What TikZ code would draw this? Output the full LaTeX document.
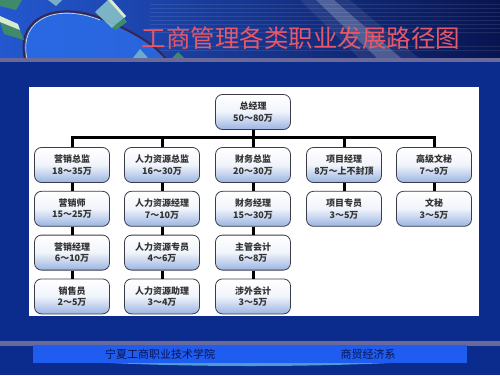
\documentclass[tikz,border=0pt]{standalone}
\usepackage{fontspec}
\usepackage{tikz}
\usetikzlibrary{positioning}
\usepackage{xcolor}
\newfontfamily\cjk{Noto Sans CJK SC}
\definecolor{bodyBlue}{HTML}{0B2C8C}
\definecolor{hdrLight}{HTML}{2458D0}
\definecolor{hdrMid}{HTML}{1838A4}
\definecolor{hdrDark}{HTML}{081450}
\definecolor{swirlLine}{HTML}{3A2450}
\definecolor{swirlFill}{HTML}{2C6EEA}
\definecolor{cubeGreen}{HTML}{3E8A6A}
\definecolor{cubeTeal}{HTML}{8CC8C8}
\definecolor{cubeLight}{HTML}{D8EAD0}
\definecolor{goldLine}{HTML}{F0B840}
\definecolor{greyLine}{HTML}{6A6A9A}
\definecolor{titleRed}{HTML}{E85868}
\definecolor{footBar}{HTML}{1F5CF0}
\definecolor{footText}{HTML}{0A1450}
\definecolor{boxEdge}{HTML}{3C3C48}
\definecolor{boxBlue}{HTML}{9AB4E2}
\definecolor{boxText}{HTML}{333333}

\tikzset{
  post/.style={draw=boxEdge, line width=0.8pt, rounded corners=7pt,
    top color=white, bottom color=boxBlue, middle color=white!85!boxBlue,
    minimum width=75pt, minimum height=35pt, inner sep=1pt, align=center,
    font=\cjk\bfseries\fontsize{9}{11.5}\selectfont, text=boxText},
  link/.style={line width=3pt, black}
}

\begin{document}
\begin{tikzpicture}[x=1pt, y=-1pt, node distance=8pt]

  \useasboundingbox (0,0) rectangle (500,375);
  \fill[bodyBlue] (0,0) rectangle (500,375);

  % ----------------------------------------------------
  % Header band
  % ----------------------------------------------------
  \shade[left color=hdrLight, middle color=hdrMid, right color=hdrDark] (0,0) rectangle (500,59);
  \foreach \y in {4,8,12,16,20,24,28,32,46,50} {
    \draw[white, opacity=0.09, line width=0.6pt] (150,\y) -- (500,\y);
  }
  \fill[white, opacity=0.2] (316,0) -- (334,0) -- (402,59) -- (378,59) -- cycle;
  \fill[white, opacity=0.08] (300,0) -- (350,0) -- (420,59) -- (360,59) -- cycle;

  % swirl and cubes
  \fill[swirlFill, opacity=0.8] (25,59) .. controls (15,15) and (60,2) .. (100,18)
    .. controls (135,32) and (155,45) .. (166,59) -- cycle;
  \draw[swirlLine, line width=2pt] (25,59) .. controls (15,15) and (60,2) .. (100,18)
    .. controls (135,32) and (155,45) .. (166,59);
  \draw[cubeLight, line width=0.6pt] (27,59) .. controls (18,16) and (60,4) .. (100,20);
  \fill[cubeGreen] (0,0) -- (22,0) -- (16,10) -- (0,6) -- cycle;
  \fill[cubeGreen] (0,22) -- (20,30) -- (24,40) -- (4,34) -- cycle;
  \fill[cubeLight] (0,16) -- (18,24) -- (20,30) -- (0,22) -- cycle;
  \fill[cubeTeal, opacity=0.85] (95,12) -- (108,0) -- (124,18) -- (112,28) -- cycle;
  \fill[cubeLight] (108,0) -- (112,0) -- (126,16) -- (124,18) -- cycle;
  \fill[cubeGreen] (112,28) -- (124,18) -- (127,22) -- (116,30) -- cycle;
  \fill[cubeTeal, opacity=0.8] (48,0) -- (62,0) -- (56,6) -- cycle;
  \fill[cubeTeal, opacity=0.7] (133,58) -- (140,49) -- (148,58) -- cycle;
  \fill[cubeGreen] (172,58) -- (178,52) -- (184,58) -- cycle;

  \node[font=\cjk\fontsize{24.5}{26}\selectfont, text=titleRed] (title) at (301,38) {工商管理各类职业发展路径图};

  \shade[left color=greyLine, middle color=goldLine, right color=greyLine] (0,58.5) rectangle (500,61.5);

  % ----------------------------------------------------
  % Chart panel
  % ----------------------------------------------------
  \fill[white] (29,87) rectangle (479,316);

  \node[post] (ceo) at (253,112) {总经理\\50～80万};
  \coordinate (bus) at (253,137);

  \node[post] (mk1) at (72,165) {营销总监\\18～35万};
  \node[post, below=of mk1] (mk2) {营销师\\15～25万};
  \node[post, below=of mk2] (mk3) {营销经理\\6～10万};
  \node[post, below=of mk3] (mk4) {销售员\\2～5万};

  \node[post] (hr1) at (162,165) {人力资源总监\\16～30万};
  \node[post, below=of hr1] (hr2) {人力资源经理\\7～10万};
  \node[post, below=of hr2] (hr3) {人力资源专员\\4～6万};
  \node[post, below=of hr3] (hr4) {人力资源助理\\3～4万};

  \node[post] (fin1) at (253,165) {财务总监\\20～30万};
  \node[post, below=of fin1] (fin2) {财务经理\\15～30万};
  \node[post, below=of fin2] (fin3) {主管会计\\6～8万};
  \node[post, below=of fin3] (fin4) {涉外会计\\3～5万};

  \node[post] (pm1) at (344,165) {项目经理\\8万～上不封顶};
  \node[post, below=of pm1] (pm2) {项目专员\\3～5万};

  \node[post] (sec1) at (434,165) {高级文秘\\7～9万};
  \node[post, below=of sec1] (sec2) {文秘\\3～5万};

  % connectors
  \foreach \n in {mk1,hr1,fin1,pm1,sec1} {
    \draw[link] (ceo.south) |- (bus -| \n.north) -- (\n.north);
  }
  \foreach \a/\b in {mk1/mk2,mk2/mk3,mk3/mk4,hr1/hr2,hr2/hr3,hr3/hr4,
                     fin1/fin2,fin2/fin3,fin3/fin4,pm1/pm2,sec1/sec2} {
    \draw[link] (\a.south) -- (\b.north);
  }

  % ----------------------------------------------------
  % Footer
  % ----------------------------------------------------
  \shade[left color=greyLine, middle color=goldLine, right color=greyLine] (0,341.5) rectangle (500,345);
  \fill[footBar] (33,345) rectangle (467,363);
  \fill[cyan!60!white, opacity=0.7] (110,363) .. controls (200,367) and (300,367) .. (390,363) -- cycle;
  \node[font=\cjk\fontsize{11}{13}\selectfont, text=footText] (school) at (160,354) {宁夏工商职业技术学院};
  \node[font=\cjk\fontsize{11}{13}\selectfont, text=footText] (dept) at (368,354) {商贸经济系};

\end{tikzpicture}
\end{document}
